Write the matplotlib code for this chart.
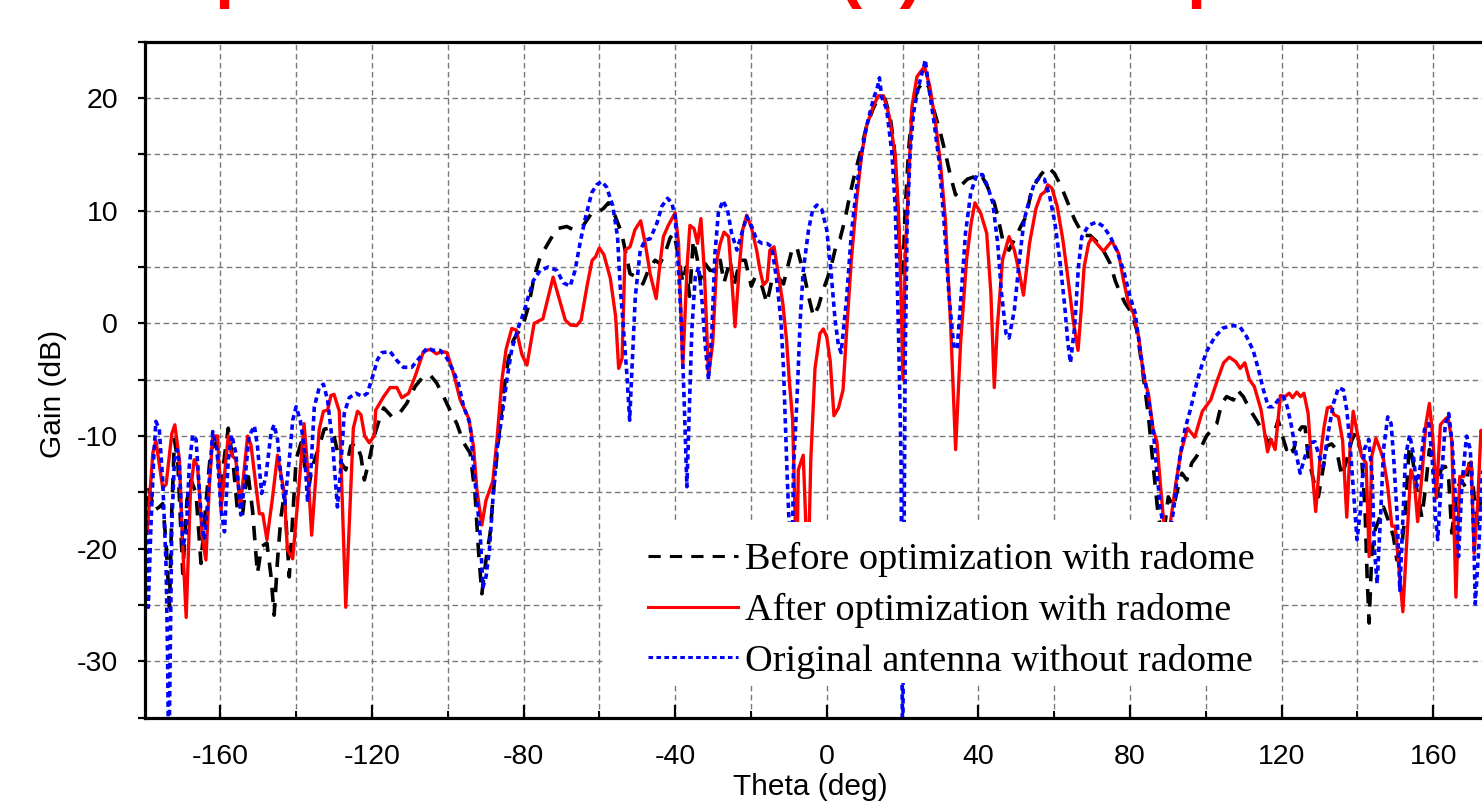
import matplotlib
matplotlib.use("Agg")
import matplotlib.pyplot as plt
from matplotlib.patches import Rectangle
from matplotlib.ticker import MultipleLocator

plt.rcParams['font.family'] = ['Liberation Sans', 'DejaVu Sans']
plt.rcParams['axes.unicode_minus'] = False

# ---- data (theta in deg, gain in dB) ----
theta_before = [-180, -179, -178.3, -177.4, -176.1, -175.2, -174.3, -173.4, -172.8, -172.1, -171.2, -169.9,
                -168.8, -167.7, -166.4, -165.1, -163.8, -162.5, -161.1, -159.8, -158.9, -157.9, -156.7, -155.4,
                -154.1, -152.8, -151.5, -150.2, -149.1, -147.7, -146.6, -145.8, -144.9, -144, -143.1, -141.8,
                -140.9, -140, -138.7, -137.4, -136.5, -135.7, -133.9, -132.6, -131.3, -130, -128.6, -126.9,
                -125.6, -124.2, -122.9, -122, -120.7, -119.4, -118.1, -116.9, -114.7, -113, -110.8, -108.6,
                -106.4, -104.6, -102.9, -101.1, -99.4, -97.6, -95.8, -94.1, -92.8, -91.9, -91, -89.9, -88.8,
                -87.9, -86.6, -85.3, -84, -82.7, -81.3, -80, -78.7, -77.2, -75.6, -73, -71.2, -68.6, -66.8,
                -64.2, -62, -60.2, -58.9, -57.6, -55.8, -54.1, -52.8, -51.9, -50.1, -48.5, -47.1, -45.3, -44,
                -42.7, -41.3, -40.3, -39.1, -38, -37.1, -36.2, -35.2, -34.1, -33.4, -32.1, -30.8, -29.5, -28.1,
                -27.1, -25.5, -24.5, -22.9, -21.5, -19.9, -18.9, -17.1, -15.8, -14.5, -12.8, -11.4, -10.1, -9.2,
                -7.9, -7.0, -6.0, -4.8, -3.5, -2.2, -0.9, 0.9, 2.6, 3.5, 4.8, 6.1, 7.4, 8.8, 10.5, 12.3, 13.9,
                15.4, 16.7, 17.8, 18.7, 19.4, 20.1, 20.7, 21.6, 22.5, 23.8, 25.6, 26.9, 28.2, 30, 31.3, 32.7, 34,
                35.3, 37.1, 38.8, 40.6, 42.3, 44.2, 45.5, 46.8, 48.1, 49.9, 51.2, 52.6, 53.9, 55.2, 56.5, 58.3,
                60.1, 61.8, 63.6, 65.4, 67.7, 69.5, 71.7, 73.4, 74.8, 76.1, 77.4, 78.7, 80.5, 81.8, 83.1, 84.9,
                85.7, 86.6, 87.5, 88.8, 90.1, 91.5, 92.3, 93.7, 95, 96.3, 97.6, 98.9, 100.2, 101.6, 102.9, 104.2,
                105.5, 107.3, 108.3, 109.9, 111.7, 113.4, 115.2, 116.5, 117.8, 119.1, 120.4, 121.3, 122.2, 123.1,
                124.1, 125.3, 126.2, 127, 128.4, 129.7, 130.6, 131.9, 133.2, 134.5, 135.9, 137.2, 138.5, 139.8,
                141.1, 142, 142.6, 143.1, 143.8, 144.7, 145.6, 146.9, 148.2, 149.5, 150.4, 151.7, 152.6, 153.7,
                154.6, 155.7, 157, 157.9, 159, 160.1, 161, 162, 163.2, 164.1, 164.9, 166.3, 167.3, 168.5, 169.8,
                170.8, 171.7, 172.6, 174, 176, 178, 180]
gain_before = [-16.6, -14.5, -15.4, -16.6, -16.3, -16.0, -19.5, -25.2, -16.6, -10.3, -12.4, -22.2,
               -15.7, -13.9, -15.1, -21.3, -16.0, -11.2, -10.6, -14.5, -11.8, -9.3, -12.1, -16.9,
               -16.9, -13.0, -16.6, -22.2, -19.8, -19.5, -22.5, -25.9, -21.0, -17.2, -15.1, -22.5,
               -17.2, -12.1, -10.6, -13.3, -14.2, -12.7, -10.9, -9.4, -9.3, -10.0, -12.1, -13.0,
               -10.9, -10.6, -11.8, -13.9, -12.1, -10.0, -8.6, -7.5, -8.3, -8.1, -7.1, -5.6,
               -4.7, -4.6, -5.3, -6.5, -7.7, -8.9, -10.6, -11.5, -15.1, -20.1, -24.0, -21.0, -18.6,
               -14.8, -10.3, -6.2, -3.2, -1.5, -0.75, 0.0, 1.5, 4.1, 5.9, 7.4, 8.4, 8.6, 8.3,
               8.7, 9.8, 9.9, 10.2, 10.7, 9.5, 8.0, 5.9, 4.4, 4.1, 3.5, 4.7, 5.6, 5.3,
               6.2, 7.6, 8.0, 5.9, 3.6, 5.0, 2.4, 7.4, 5.6, 3.8, 5.3, 4.7, 4.7, 5.6,
               3.6, 5.6, 3.3, 5.6, 5.6, 3.3, 4.1, 3.3, 1.8, 3.8, 4.1, 3.5, 5.3, 6.5,
               6.8, 5.6, 4.4, 2.4, 0.6, 1.5, 3.0, 4.7, 7.1, 7.5, 9.2, 11.4, 13.3, 15.1, 17.5, 19.1, 20.2,
               19.9, 18.4, 15.7, 10.1, 5.7, 4.5, 10.1, 15.4, 18.7, 20.7, 21.5, 21.0, 19.0, 16.9, 15.1, 13.0, 11.4,
               12.2, 12.8, 13.0, 13.3, 12.2, 10.7, 8.9, 6.8, 6.5, 7.7, 8.6, 9.5, 11.6, 12.5, 13.2, 13.9,
               13.3, 12.2, 10.7, 9.2, 7.8, 7.8, 7.1, 6.2, 5.3, 3.8, 2.7, 1.8, 0.9, -0.6, -3.6, -8.3,
               -11.2, -14.2, -17.2, -19.0, -15.4, -16.3, -15.1, -13.3, -13.9, -12.4, -11.8, -10.9, -10.0, -9.4, -8.9, -7.1,
               -6.5, -6.8, -5.9, -6.5, -7.7, -8.6, -9.7, -10.6, -10.0, -8.6, -10.2, -11.2, -10.7, -11.4,
               -9.8, -9.2, -9.2, -11.8, -13.9, -15.4, -13.6, -10.9, -10.7, -11.2, -13.6, -12.1, -10.4, -9.5,
               -11.8, -16.3, -22.8, -26.6, -20.4, -18.3, -17.5, -16.3, -17.5, -18.9, -21.0, -19.8, -16.9, -10.9,
               -12.1, -14.8, -17.2, -14.8, -11.2, -12.4, -15.4, -13.0, -12.7, -13.9, -18.6, -14.8, -13.9, -14.5, -11.8,
               -15.4, -17.8, -15.4, -13.0, -16.0, -12.0, -15.0]

theta_after = [-180, -179.3, -177.8, -177, -175.2, -174.3, -172.8, -172, -170.8, -170, -169, -167.9, -166.9,
               -166, -164.7, -163.8, -162.9, -162, -160.7, -159.8, -157.9, -157, -155.9, -154.7, -152.8, -151.9,
               -149.7, -148.8, -147.7, -146.2, -144.9, -143.1, -142.3, -140.9, -139.4, -137.9, -136.8, -135.9,
               -133.9, -132.8, -131.7, -130.8, -130, -128.6, -126.9, -124.9, -123.8, -122.9, -121.9, -120.7,
               -119.4, -119, -117.6, -116.9, -115.2, -113.4, -112.1, -110.3, -108.6, -106.4, -104.6, -103,
               -101.5, -100.2, -98.5, -96.7, -94.5, -93.2, -92.3, -91, -89.9, -88.1, -87, -85.7, -84.6, -83.1,
               -81.9, -80.4, -79.1, -77.2, -74.9, -72.2, -69, -67.6, -66, -64.8, -63.2, -61.9, -61, -60, -58.8,
               -57.1, -55.7, -54.9, -54, -53.2, -51.9, -50.6, -49.1, -47.9, -46.6, -45, -44, -43.1, -41.8, -40,
               -39.1, -38, -36.8, -36.1, -35, -34.1, -33.2, -32.3, -31.2, -30.1, -29, -28.1, -27.1, -25.9, -25.1,
               -24.2, -23, -22.2, -21.1, -19.8, -18.5, -17.6, -16.7, -15.7, -15, -13.9, -12.8, -11.6, -10.6, -9.9,
               -9, -8.3, -7.9, -7.5, -6.2, -5.5, -4.9, -4.2, -3.1, -1.8, -0.9, 0, 0.9, 1.9, 3.1, 4.3, 5.2, 6.5,
               7.9, 9.2, 10.5, 12.3, 13.6, 15, 16.5, 18.1, 18.9, 19.6, 20.1, 20.7, 21.6, 22.5, 23.8, 25.8, 27.2,
               28.7, 30, 31.3, 32.7, 34, 35.3, 36.9, 38.1, 39.1, 40.6, 42.2, 43.3, 44.2, 45, 46.4, 48.1, 49.5,
               50.8, 51.9, 53.5, 55.2, 56.5, 57.6, 58.3, 59.4, 60.8, 62.3, 63.6, 65, 66.3, 67.2, 67.9, 69.1, 69.9,
               71.2, 73, 75.2, 77, 78.3, 79.6, 80.9, 82.3, 83.6, 84.9, 86.1, 87.1, 88, 88.9, 89.8, 90.7, 92.1,
               93.4, 95.2, 97.1, 99.1, 101.3, 103.1, 104.7, 106.2, 107.9, 109.1, 110.3, 111.5, 112.8, 114.6,
               116.3, 117.2, 118.3, 119.7, 120.9, 122, 122.9, 124, 125, 125.9, 127, 127.9, 129, 130.1, 131.2,
               132.1, 133, 133.8, 135, 136.1, 137.2, 138.1, 138.9, 140, 141.1, 142.3, 143.1, 143.8, 144.9, 146,
               146.9, 148, 149.1, 150, 150.8, 152, 153, 154.1, 155, 155.9, 157, 158.1, 159, 159.9, 160.8, 161.9,
               162.9, 163.9, 164.9, 166, 167, 168, 168.9, 170, 170.8, 171.7, 172.6, 174, 176, 178, 180]
gain_after = [-17.0, -18.6, -11.5, -10.4, -14.6, -14.3, -9.8, -9.0, -12.1, -19.2, -26.1, -15.1, -12.1,
              -12.7, -19.2, -21.0, -14.5, -10.0, -10.0, -16.6, -10.0, -11.7, -12.1, -16.3, -10.0, -10.8,
              -16.9, -16.9, -19.2, -15.4, -11.7, -15.1, -20.1, -20.9, -15.1, -8.9, -13.6, -18.8,
              -9.4, -7.8, -7.7, -6.4, -6.3, -7.8, -25.2, -9.3, -7.8, -8.1, -10.0, -10.6,
              -10.0, -7.7, -6.9, -6.5, -5.7, -5.7, -6.6, -6.2, -4.7, -2.5, -2.3, -2.7,
              -2.5, -2.6, -4.4, -6.8, -8.4, -10.9, -14.8, -17.9, -15.7, -14.0, -10.3, -5.0, -2.3, -0.45,
              -0.6, -2.8, -3.7, 0.0, 0.4, 4.1, 0.3, -0.15, -0.2, 0.3, 3.4, 5.6, 5.9, 6.7, 6.1,
              4.0, 0.6, -4.0, -3.1, 6.5, 6.8, 8.3, 9.1, 7.1, 4.4, 2.2, 5.3, 7.7, 8.7, 9.8,
              7.1, -3.9, 5.3, 8.7, 8.4, 7.1, 9.3, 4.7, -4.6, -1.8, 5.6, 7.1, 8.1, 7.7, 4.1,
              -0.3, 5.3, 8.3, 9.6, 8.4, 6.5, 4.7, 3.4, 3.8, 6.5, 6.8, 4.4, 1.8, -1.5, -5.0,
              -8.6, -17.8, -22.0, -13.0, -11.7, -18.0, -22.0, -12.0, -4.0, -0.9, -0.5, -1.2, -3.3, -8.2, -7.5, -5.9, -0.9, 5.7,
              11.0, 15.0, 17.5, 19.3, 20.2, 20.2, 18.4, 14.8, 10.1, 2.7, -5.0, 5.7, 12.8, 19.3, 21.9, 22.8, 21.0,
              17.8, 14.2, 9.2, -0.3, -11.2, -1.8, 5.7, 8.9, 10.7, 9.8, 8.0, 2.7, -5.7, -0.3, 5.7, 7.7, 6.5,
              4.5, 2.5, 7.1, 10.2, 11.4, 11.7, 12.3, 12.0, 10.4, 7.4, 4.1, 0.3, -2.4, 1.5, 5.0, 7.1, 7.6,
              7.1, 6.4, 7.3, 6.2, 3.8, 1.8, 0.9, -1.2, -4.7, -6.3, -9.4, -10.5, -14.2, -17.6, -18.8, -17.6, -14.2,
              -11.5, -9.3, -10.1, -7.8, -6.8, -5.0, -3.5, -3.0, -3.4, -4.0, -3.5, -5.0, -5.6, -7.7,
              -11.4, -10.3, -11.2, -6.4, -6.5, -6.2, -6.6, -6.1, -6.5, -6.2, -8.0, -12.4, -16.7, -12.1, -9.2,
              -7.5, -7.4, -8.1, -8.3, -10.4, -17.2, -10.9, -7.8, -9.8, -11.8, -12.4, -20.7, -11.8, -10.2, -11.2,
              -12.1, -14.5, -18.0, -18.0, -21.0, -25.6, -19.5, -13.0, -13.9, -17.6, -13.6, -8.9, -7.1, -10.1, -15.5, -9.0,
              -8.6, -8.3, -10.4, -24.3, -13.6, -13.6, -13.0, -12.3, -20.4, -16.3, -9.5, -11.0, -15.0, -12.0, -16.0]

theta_orig = [-180, -179.6, -179, -178.3, -177.6, -177, -176.1, -175.2, -174.3, -173.9, -173.6, -172.8, -172.1,
              -171.4, -170.8, -169.9, -169, -168.2, -167.3, -166.4, -165.1, -164.2, -163.3, -162, -160.9, -159.8,
              -158.9, -157.9, -157, -155.9, -154.6, -153.7, -152.4, -151, -150.2, -149.1, -148, -146.6, -145.8,
              -144.9, -144, -143, -141.8, -140.9, -140, -138.9, -137.9, -137, -136.1, -135.2, -133.9, -132.8,
              -131.7, -130.4, -129.1, -128.2, -127.3, -126, -124.2, -122.5, -121.2, -119.8, -118.5, -117.4,
              -115.2, -113.4, -111.7, -109.5, -107.3, -105.5, -103.7, -102, -100.2, -98.7, -97.2, -95.8, -94.1,
              -93.2, -92.3, -91.4, -90.7, -89.9, -89, -88.1, -87, -85.7, -84.4, -83.1, -81.3, -80, -78.7, -77.4,
              -75.6, -73.4, -71.2, -69.5, -67.7, -66.4, -65.1, -63.8, -62, -60.7, -59.4, -58.1, -56.5, -55.2,
              -54.5, -53.6, -52.7, -52, -51.4, -50.5, -49.2, -47.9, -46.6, -44.8, -43.5, -42, -40.9, -40, -39.1,
              -38.2, -37.6, -36.9, -36.2, -35.6, -34.7, -33.8, -33, -32.1, -31.2, -30.3, -29.5, -28.6, -27.4,
              -26.2, -25.1, -23.7, -22.4, -21.1, -19.8, -18.5, -17.1, -15.8, -14.5, -13.2, -12.1, -11.4, -10.5,
              -9.8, -9.2, -8.8, -7.9, -7.0, -6.2, -4.8, -3.7, -2.6, -1.3, 0, 1.1, 2.2, 3.1, 3.8, 4.3, 5.2, 6.5,
              7.9, 9.2, 10.5, 12.3, 13.4, 13.9, 14.5, 15.8, 17.2, 18.1, 18.9, 19.6, 20, 20.7, 21.2, 22, 22.9,
              24.2, 25.6, 26, 26.9, 28.2, 29.6, 30.9, 32.2, 33.5, 34.4, 35.5, 36.6, 38, 39.6, 41.1, 42.4, 43.8,
              45.1, 46.1, 47.3, 48.1, 49.5, 50.8, 52.1, 53.5, 54.8, 56.1, 57.4, 58.8, 60.2, 61.5, 62.8, 63.6,
              64.3, 65.4, 66.4, 67.3, 69.1, 71.2, 73, 74.8, 76.5, 78.3, 80, 81.4, 82.2, 83.6, 84.9, 86.2, 87.2,
              88.1, 89.3, 90.5, 91.5, 92.3, 93.2, 94.5, 95.9, 97.6, 98.9, 100.2, 102.4, 104.6, 107.3, 109,
              110.8, 112.5, 113.9, 115.2, 116.5, 117.8, 119.1, 120.5, 121.5, 122.6, 123.8, 124.9, 126.2, 127.5,
              128.8, 130.2, 131, 132.3, 133.7, 135, 136.3, 137.2, 138.1, 139, 139.9, 140.8, 141.8, 143, 143.9,
              144.5, 145.2, 146.1, 146.9, 148, 148.9, 149.6, 150.5, 151.2, 151.8, 152.7, 153.8, 154.7, 155.6,
              156.6, 157.7, 158.8, 159.7, 160.6, 161.2, 162.1, 163.2, 164.1, 165, 165.8, 166.7, 167.6, 168.8,
              169.8, 170.7, 171.1, 172, 172.9, 174.5, 176, 178, 180]
gain_orig = [-15.0, -15.7, -25.2, -18.0, -12.1, -8.7, -9.4, -13.9, -21.6, -29.9, -40.0, -18.0, -12.1,
             -11.2, -12.4, -19.8, -18.6, -12.7, -9.9, -10.3, -16.9, -19.2, -15.7, -9.6, -11.2, -16.6,
             -18.5, -12.1, -9.9, -11.5, -17.0, -14.5, -10.0, -9.1, -10.9, -15.1, -13.6, -9.7, -9.0,
             -10.3, -13.6, -16.0, -12.1, -8.6, -7.4, -8.6, -10.9, -15.7, -13.0, -7.4, -5.7, -5.4,
             -6.8, -10.6, -16.3, -12.7, -8.0, -6.6, -6.2, -6.5, -6.2, -4.7, -3.2, -2.6,
             -2.5, -3.3, -3.9, -3.9, -3.0, -2.2, -2.4, -2.4, -3.1, -4.1, -5.3, -7.4, -8.9,
             -12.7, -15.7, -18.9, -23.4, -22.5, -20.1, -15.7, -11.2, -8.3, -5.0, -2.3, -0.3, 0.9, 2.4, 3.8,
             4.7, 5.0, 4.7, 3.6, 3.3, 4.7, 7.1, 9.2, 11.6, 12.3, 12.6, 12.1, 10.5, 7.7,
             3.3, -0.6, -4.7, -8.6, -4.1, 2.4, 6.5, 7.4, 7.5, 8.9, 10.4, 11.1, 10.7, 9.5, 4.7,
             -1.2, -7.1, -14.5, -7.1, -0.6, 4.1, 5.0, 2.4, -1.8, -5.0, -0.6, 6.2, 9.8, 10.9,
             10.1, 8.0, 6.5, 8.0, 9.5, 8.6, 7.4, 7.1, 7.1, 6.8, 3.8, 0.3, -4.1, -13.0,
             -19.0, -24.0, -13.0, -7.1, 0.3, 4.7, 8.3, 10.1, 10.5, 10.1, 8.3, 4.7, 0.3, -2.0, -2.6, -0.9, 2.1, 8.0,
             12.2, 15.1, 17.5, 19.9, 21.0, 21.8, 20.1, 19.0, 15.1, 10.1, -0.3, -12.1, -40.0, -3.2, 8.6, 15.1, 18.7,
             21.0, 22.8, 23.4, 21.0, 18.1, 14.5, 9.2, 2.7, -2.0, -2.3, 2.7, 8.0, 11.6, 13.2, 13.2, 12.2, 10.7,
             7.1, 2.7, -0.9, -1.3, 1.2, 5.6, 9.2, 11.0, 12.5, 12.9, 12.8, 11.3, 8.9, 5.6, 1.5, -1.7,
             -3.5, -0.3, 5.0, 7.7, 8.7, 9.0, 8.6, 7.7, 6.5, 4.7, 2.4, 0.9, -1.2, -4.4, -6.8, -9.7, -13.6,
             -16.6, -19.0, -18.5, -16.6, -14.2, -11.8, -9.4, -7.7, -5.3, -3.8, -2.5, -1.2, -0.4, -0.2, -0.3,
             -1.2, -2.4, -4.1, -5.9, -7.4, -7.4, -6.8, -6.5, -7.4, -9.1, -11.5, -13.3, -11.8, -10.6,
             -10.5, -12.1, -12.7, -9.7, -7.1, -5.7, -5.9, -7.7, -10.9, -15.1, -19.2, -16.6, -11.2, -10.3, -13.6,
             -20.1, -23.1, -17.2, -11.2, -8.3, -8.9, -12.1, -17.2, -23.7, -18.9, -11.8, -9.9, -11.5, -14.5,
             -12.7, -9.4, -8.9, -11.8, -17.2, -19.2, -14.2, -8.9, -8.0, -10.6, -15.1, -20.7, -14.2, -10.0,
             -11.2, -18.9, -24.9, -20.1, -13.6, -10.0, -14.0, -11.0, -15.0]

labels = ['Before optimization with radome', 'After optimization with radome',
          'Original antenna without radome']

fig = plt.figure(figsize=(14.82, 8.01), dpi=100)
W, H = 1482, 801
ax = fig.add_axes([144.5 / W, 1 - 717.7 / H, (1509 - 144.5) / W, (717.7 - 41.7) / H])

l1, = ax.plot(theta_before, gain_before, color='black', lw=2.6, linestyle=(0, (4.0, 3.0)))
l2, = ax.plot(theta_after, gain_after, color='#ff0000', lw=2.4)
l3, = ax.plot(theta_orig, gain_orig, color='#0000ff', lw=2.6, linestyle=(0, (1.5, 1.1)))

ax.set_xlim(-180, 180)
ax.set_ylim(-35, 25)
ax.xaxis.set_major_locator(MultipleLocator(40))
ax.xaxis.set_minor_locator(MultipleLocator(20))
ax.yaxis.set_major_locator(MultipleLocator(10))
ax.yaxis.set_minor_locator(MultipleLocator(5))
ax.set_yticks([20, 10, 0, -10, -20, -30])

ax.grid(which='both', color='#7a7a7a', linestyle=(0, (4, 2.5)), linewidth=1.0)
ax.set_axisbelow(True)
for s in ax.spines.values():
    s.set_linewidth(2.3)

ax.tick_params(axis='x', which='major', direction='in', length=9.5, width=1.6, labelsize=20.5, pad=19)
ax.tick_params(axis='x', which='minor', direction='in', length=5, width=1.4)
ax.tick_params(axis='y', which='both', direction='out', length=5, width=1.6, labelsize=20.5, pad=14)

fig.text(810 / W, 6 / H, 'Theta (deg)', fontsize=21.5, ha='center', va='baseline')
fig.text(53 / W, 1 - 394 / H, 'Gain (dB)', fontsize=21.5, ha='center', va='center', rotation=90)

# white box behind the legend
ax.add_patch(Rectangle((604 / W, 1 - 683 / H), 676 / W, 161 / H, transform=fig.transFigure,
                       facecolor='white', edgecolor='none', zorder=4, clip_on=False))
leg = ax.legend([l1, l2, l3], labels, loc='upper left', bbox_to_anchor=(648 / W, 1 - 542 / H),
                bbox_transform=fig.transFigure, frameon=False, borderaxespad=0, borderpad=0,
                handlelength=2.35, handletextpad=0.2, labelspacing=0.41,
                prop={'family': 'Liberation Serif', 'size': 27.5})
leg.set_zorder(5)
for h in leg.legend_handles:
    h.set_linewidth(2.2)

# cut-off red title at the very top
for xp, s in [(214, 'p'), (881, '(a)'), (1186, 'p')]:
    fig.text(xp / W, 1 + 5 / H, s, color='#ff0000', fontsize=50, fontweight='bold',
             ha='center' if s == '(a)' else 'left', va='baseline')

fig.savefig('out.png', dpi=100)
